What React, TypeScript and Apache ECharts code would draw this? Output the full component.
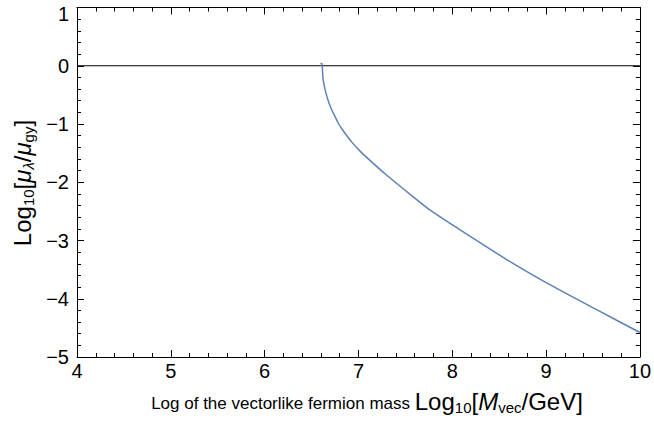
import React, { useEffect, useRef } from "react";
import * as echarts from "echarts";

const curveX = [6.595, 6.612, 6.616, 6.619, 6.625, 6.637, 6.659, 6.686, 6.714, 6.748, 6.79, 6.828, 6.934, 7.02, 7.111, 7.289, 7.571, 7.748, 8.067, 8.3, 8.598, 9.02, 9.554, 10.0];
const curveY = [0.04, 0.035, -0.05, -0.15, -0.25, -0.354, -0.5, -0.638, -0.75, -0.866, -1.0, -1.094, -1.32, -1.47, -1.607, -1.863, -2.234, -2.46, -2.8, -3.04, -3.345, -3.74, -4.2, -4.58];
const zeroLineX = [4, 10];
const zeroLineY = [0, 0];
const xTicks = [4, 5, 6, 7, 8, 9, 10];
const yTicks = [-5, -4, -3, -2, -1, 0, 1];

const FONT = "Liberation Sans, Arial, sans-serif";

export default function App() {
  const ref = useRef<HTMLDivElement>(null);
  useEffect(() => {
    if (!ref.current) return;
    const chart = echarts.init(ref.current, null, { renderer: "svg" });
    const gridL = 77, gridT = 7.5, gridW = 565, gridH = 349.5;
    const axisCommon = () => ({
      axisLine: { show: true, onZero: false, lineStyle: { color: "#000", width: 1 } },
      axisTick: { show: true, inside: true, length: 7, lineStyle: { color: "#000", width: 1 } },
      minorTick: { show: true, splitNumber: 5, length: 4, lineStyle: { color: "#000", width: 1 } },
      splitLine: { show: false },
      minorSplitLine: { show: false },
    });
    const fmtMinus = (v: number) => (v < 0 ? "\u2212" + Math.abs(v) : String(v));
    chart.setOption({
      animation: false,
      backgroundColor: "#fff",
      grid: { left: gridL, top: gridT, width: gridW, height: gridH, containLabel: false },
      xAxis: [
        {
          type: "value", min: xTicks[0], max: xTicks[xTicks.length - 1], interval: 1, position: "bottom",
          ...axisCommon(),
          axisLabel: { show: true, margin: 4, color: "#000", fontSize: 20, fontFamily: FONT, formatter: (v: number) => fmtMinus(v) },
        },
        {
          type: "value", min: xTicks[0], max: xTicks[xTicks.length - 1], interval: 1, position: "top",
          ...axisCommon(),
          axisLabel: { show: false },
        },
      ],
      yAxis: [
        {
          type: "value", min: yTicks[0], max: yTicks[yTicks.length - 1], interval: 1, position: "left",
          ...axisCommon(),
          axisLabel: {
            show: true, margin: 8, color: "#000", fontSize: 20, fontFamily: FONT,
            formatter: (v: number) => {
              if (v === yTicks[yTicks.length - 1]) return "{top|" + fmtMinus(v) + "}";
              return fmtMinus(v);
            },
            rich: {
              top: { fontSize: 20, fontFamily: FONT, color: "#000", padding: [12, 0, 0, 0] },
            },
          },
        },
        {
          type: "value", min: yTicks[0], max: yTicks[yTicks.length - 1], interval: 1, position: "right",
          ...axisCommon(),
          axisLabel: { show: false },
        },
      ],
      series: [
        {
          type: "line",
          data: zeroLineX.map((x, i) => [x, zeroLineY[i]]),
          showSymbol: false,
          symbol: "none",
          lineStyle: { color: "#000", width: 1 },
          silent: true,
        },
        {
          type: "line",
          data: curveX.map((x, i) => [x, curveY[i]]),
          showSymbol: false,
          symbol: "none",
          smooth: 0.2,
          lineStyle: { color: "#5E81B5", width: 1.5 },
        },
      ],
      graphic: [
        {
          type: "text",
          x: 367,
          y: 401,
          style: {
            text: "{s|Log of the vectorlike fermion mass}{sp| }{m|Log}{sub|10}{m|[}{mi|M}{sub|vec}{m|/GeV]}",
            align: "center",
            verticalAlign: "middle",
            rich: {
              s: { fontSize: 17, fontFamily: FONT, color: "#000", lineHeight: 28, verticalAlign: "bottom", padding: [0, 0, 3, 0] },
              sp: { fontSize: 17, fontFamily: FONT, color: "#000", lineHeight: 28 },
              m: { fontSize: 24, fontFamily: FONT, color: "#000", lineHeight: 28 },
              mi: { fontSize: 24, fontFamily: FONT, color: "#000", fontStyle: "italic", lineHeight: 28 },
              sub: { fontSize: 15, fontFamily: FONT, color: "#000", verticalAlign: "bottom", lineHeight: 15 },
            },
          },
        },
        {
          type: "text",
          x: 22,
          y: 183,
          rotation: Math.PI / 2,
          style: {
            text: "{m|Log}{sub|10}{m|[}{mi|\u03bc}{subi|\u03bb}{m|/}{mi|\u03bc}{sub|gy}{m|]}",
            align: "center",
            verticalAlign: "middle",
            rich: {
              m: { fontSize: 24, fontFamily: FONT, color: "#000", lineHeight: 28 },
              mi: { fontSize: 24, fontFamily: FONT, color: "#000", fontStyle: "italic", lineHeight: 28 },
              sub: { fontSize: 15, fontFamily: FONT, color: "#000", verticalAlign: "bottom", lineHeight: 15 },
              subi: { fontSize: 15, fontFamily: FONT, color: "#000", fontStyle: "italic", verticalAlign: "bottom", lineHeight: 15 },
            },
          },
        },
      ],
    });
    return () => chart.dispose();
  }, []);
  return (
    <div
      ref={ref}
      style={{ position: "absolute", left: 0, top: 0, width: 654, height: 424, background: "#fff" }}
    />
  );
}
